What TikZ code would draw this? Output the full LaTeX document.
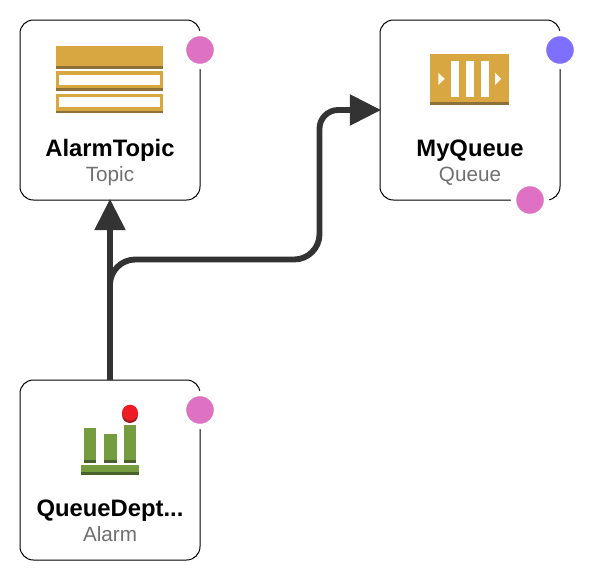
\documentclass[tikz,border=0pt]{standalone}
\usepackage{fontspec}
\setmainfont{Liberation Sans}
\usetikzlibrary{arrows.meta}
\definecolor{gold}{HTML}{D9A741}
\definecolor{golddark}{HTML}{8C7238}
\definecolor{leaf}{HTML}{759C3E}
\definecolor{leafdark}{HTML}{4B612C}
\definecolor{alarmred}{HTML}{ED1C24}
\definecolor{alarmdark}{HTML}{9A1C1F}
\definecolor{pinkdot}{HTML}{DE71C4}
\definecolor{bluedot}{HTML}{7F6FFF}
\definecolor{flowgray}{HTML}{333333}
\definecolor{subgray}{HTML}{707070}
\tikzset{
	res/.style={draw=black,line width=.75pt,fill=white,rounded corners=10pt,minimum size=135pt,inner sep=0pt},
	dot/.style={circle,draw=white,line width=4pt,minimum size=24.75pt,inner sep=0pt},
	title/.style={anchor=base,inner sep=0pt,font=\fontsize{17.85pt}{20pt}\selectfont\bfseries},
	kind/.style={anchor=base,inner sep=0pt,text=subgray,font=\fontsize{15.5pt}{17pt}\selectfont},
	flow/.style={draw=flowgray,line width=4.4pt,shorten >=-1.2pt,-{Triangle[length=23.5pt,width=22.5pt]}}
}
\begin{document}
\begin{tikzpicture}[x=.75pt,y=-.75pt]
	\useasboundingbox (0,0) rectangle (594,579);
	\node[res] (topic) at (110,110) {};
	\node[res] (queue) at (470,110) {};
	\node[res] (alarm) at (110,470) {};
	%topic icon
	\fill[gold] (56,46) rectangle (163,68.7);
	\fill[golddark] (56,65.5) rectangle (163,68.7);
	\fill[gold] (56,71.3) rectangle (163,90.7);
	\fill[golddark] (56,88) rectangle (163,90.7);
	\fill[white] (59.3,74.7) rectangle (160,84.7);
	\fill[gold] (56,94) rectangle (163,113.3);
	\fill[golddark] (56,110.7) rectangle (163,113.3);
	\fill[white] (59.3,97.3) rectangle (160,107.3);
	%queue icon
	\fill[gold] (430.3,54) rectangle (509,105.3);
	\fill[golddark] (430.3,102) rectangle (509,105.3);
	\fill[white] (450.7,60.7) rectangle (458.7,96.7);
	\fill[white] (466,60.7) rectangle (474,96.7);
	\fill[white] (480.7,60.7) rectangle (488.7,96.7);
	\fill[white!90!gold] (438.3,72.7) -- (444.7,78.9) -- (438.3,85) -- cycle;
	\fill[white!90!gold] (495,72.7) -- (501.3,78.9) -- (495,85) -- cycle;
	%alarm icon
	\fill[leaf] (80.7,464.7) rectangle (139,474.7);
	\fill[leafdark] (80.7,471.7) rectangle (139,474.7);
	\fill[leaf] (83.7,428) rectangle (96,462.7);
	\fill[leafdark] (83.7,459.7) rectangle (96,462.7);
	\fill[leaf] (103.7,434) rectangle (116.7,462.7);
	\fill[leafdark] (103.7,459.7) rectangle (116.7,462.7);
	\fill[leaf] (124.3,425) rectangle (136.3,462.7);
	\fill[leafdark] (124.3,459.7) rectangle (136.3,462.7);
	\fill[alarmdark] (130,415) circle (6pt);
	\fill[alarmred] (130,412.7) circle (6pt);
	%labels
	\node[title] (topicname) at (110,156.3) {AlarmTopic};
	\node[kind] (topickind) at (110,181) {Topic};
	\node[title] (queuename) at (470,156.3) {MyQueue};
	\node[kind] (queuekind) at (470,181) {Queue};
	\node[title] (alarmname) at (110,516.3) {QueueDept...};
	\node[kind] (alarmkind) at (110,541) {Alarm};
	%dots
	\node[dot,fill=pinkdot] (topicdot) at (200,50) {};
	\node[dot,fill=bluedot] (queuedot) at (560,50) {};
	\node[dot,fill=pinkdot] (queuedotb) at (530,200) {};
	\node[dot,fill=pinkdot] (alarmdot) at (200,410) {};
	%connectors
	\coordinate (bendA) at (110,259.5);
	\coordinate (bendB) at (319.5,259.5);
	\coordinate (bendC) at (319.5,110);
	\draw[flow] (alarm.north) -- (topic.south);
	\draw[flow] (alarm.north) -- (110,300) [rounded corners=19pt] -- (bendA) -- (bendB) [rounded corners=14pt] -- (bendC) [sharp corners] -- (queue.west);
\end{tikzpicture}
\end{document}
